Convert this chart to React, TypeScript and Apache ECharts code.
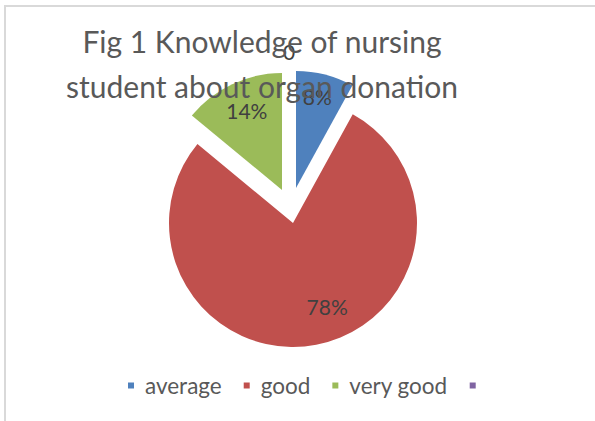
import React, { useEffect, useRef } from "react";
import * as echarts from "echarts";

const categories = ["average", "good", "very good", " "];
const values = [8, 78, 14, 0];
const colors = ["#4F81BD", "#C0504D", "#9BBB59", "#8064A2"];
const titleText = "Fig 1 Knowledge of nursing\nstudent about organ donation";

// which slice each exploded pie piece draws, with its own centre and radius
const pieces = [
  { show: [1], center: [293, 223], radius: 124 },
  { show: [0, 3], center: [296, 188], radius: 117 },
  { show: [2], center: [282, 190], radius: 117 },
];
// label nudges (dx, dy) from the default inside position
const labelNudge: Record<number, [number, number]> = {
  0: [6, -32],
  1: [22, 20],
  2: [-9, -24],
  3: [-7, -75],
};

const FONT = "Lato, 'Open Sans', sans-serif";
const TEXT = "#595959";
const TRANSPARENT = "rgba(0,0,0,0)";

export default function App() {
  const ref = useRef<HTMLDivElement>(null);
  useEffect(() => {
    document.body.style.margin = "0";
    const chart = echarts.init(ref.current!, null, { renderer: "svg" });
    const series = pieces.map((p) => ({
      type: "pie",
      center: p.center,
      radius: p.radius,
      startAngle: 90,
      clockwise: true,
      silent: true,
      avoidLabelOverlap: false,
      stillShowZeroSum: true,
      labelLine: { show: false },
      emphasis: { disabled: true },
      label: {
        position: "inside",
        fontFamily: FONT,
        fontSize: 21,
        color: "#404040",
        formatter: (pr: any) => (pr.value === 0 ? "0" : `${Math.round(pr.percent)}%`),
      },
      labelLayout: (pr: any) => {
        const n = labelNudge[pr.dataIndex] || [0, 0];
        return { dx: n[0], dy: n[1] };
      },
      data: categories.map((name, i) => {
        const on = p.show.includes(i);
        return {
          name,
          value: values[i],
          itemStyle: { color: on ? colors[i] : TRANSPARENT },
          label: { show: on },
        };
      }),
    }));
    chart.setOption({
      animation: false,
      backgroundColor: "#ffffff",
      color: colors,
      title: {
        text: titleText,
        left: 257,
        top: 13,
        textAlign: "center",
        textStyle: {
          fontFamily: FONT,
          fontSize: 30,
          fontWeight: "normal",
          color: TEXT,
          lineHeight: 45,
        },
      },
      legend: {
        data: categories.map((name, i) => ({ name, itemStyle: { color: colors[i] } })),
        left: 123,
        top: 369,
        icon: "rect",
        itemWidth: 6,
        itemHeight: 6,
        itemGap: 22,
        selectedMode: false,
        textStyle: { fontFamily: FONT, fontSize: 22.5, color: TEXT, padding: [0, 0, 0, 6] },
      },
      graphic: [
        {
          type: "rect",
          shape: { x: 5, y: 6, width: 800, height: 600 },
          style: { fill: "none", stroke: "#d9d9d9", lineWidth: 2 },
          silent: true,
          z: -1,
        },
      ],
      series,
    });
    return () => chart.dispose();
  }, []);
  return (
    <div
      ref={ref}
      style={{ position: "fixed", left: 0, top: 0, width: 595, height: 421 }}
    />
  );
}
